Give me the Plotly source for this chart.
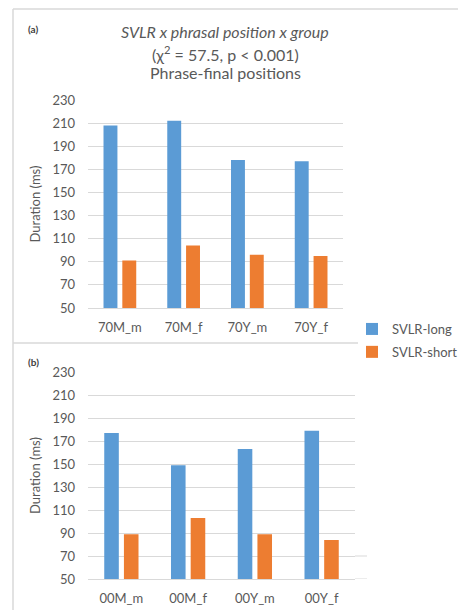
import plotly.graph_objects as go

groups_a = ["70M_m", "70M_f", "70Y_m", "70Y_f"]
long_a = [208, 212, 178, 177]
short_a = [91, 104, 96, 95]

groups_b = ["00M_m", "00M_f", "00Y_m", "00Y_f"]
long_b = [177, 149, 163, 179]
short_b = [89, 103, 89, 84]

series_names = ["SVLR-long", "SVLR-short"]
colors = ["#5B9BD5", "#ED7D31"]
y_ticks = [50, 70, 90, 110, 130, 150, 170, 190, 210, 230]

W, H = 458, 610
FONT = "Lato"
TXT = "#595959"
GRID = "#d9d9d9"

fig = go.Figure()
fig.add_bar(x=groups_a, y=long_a, name=series_names[0], marker_color=colors[0],
            xaxis="x", yaxis="y", legendgroup="l", marker_line_width=0)
fig.add_bar(x=groups_a, y=short_a, name=series_names[1], marker_color=colors[1],
            xaxis="x", yaxis="y", legendgroup="s", marker_line_width=0)
fig.add_bar(x=groups_b, y=long_b, name=series_names[0], marker_color=colors[0],
            xaxis="x2", yaxis="y2", showlegend=False, marker_line_width=0)
fig.add_bar(x=groups_b, y=short_b, name=series_names[1], marker_color=colors[1],
            xaxis="x2", yaxis="y2", showlegend=False, marker_line_width=0)

def px(v):
    return v / W

def py(v):
    return 1 - v / H

yax = dict(range=[50, 230], tickvals=y_ticks, showgrid=True, gridcolor=GRID, gridwidth=1,
           zeroline=False, showline=False, ticks="", ticklabelstandoff=12,
           tickfont=dict(family=FONT, size=13, color=TXT),
           title=dict(text="Duration (ms)", font=dict(family=FONT, size=13, color=TXT), standoff=8))
xax = dict(showline=True, linecolor=GRID, linewidth=1, ticks="", ticklabelstandoff=7,
           tickfont=dict(family=FONT, size=13, color=TXT), showgrid=False)

fig.update_layout(
    width=W, height=H,
    margin=dict(l=0, r=0, t=0, b=0, autoexpand=False),
    paper_bgcolor="white", plot_bgcolor="white",
    barmode="group", bargap=0.41, bargroupgap=0.26,
    xaxis=dict(domain=[px(88), px(343)], anchor="y", **xax),
    yaxis=dict(domain=[py(308), py(100)], anchor="x", **yax),
    xaxis2=dict(domain=[px(88), px(355)], anchor="y2", **xax),
    yaxis2=dict(domain=[py(579), py(372)], anchor="x2", **yax),
    legend=dict(x=px(352), y=py(314), xanchor="left", yanchor="top",
                font=dict(family=FONT, size=13, color=TXT), tracegroupgap=3,
                bgcolor="rgba(0,0,0,0)", itemwidth=30),
    showlegend=True,
)

annos = [
    dict(text="<i>SVLR x phrasal position x group</i>", x=px(225), y=py(31)),
    dict(text="(χ<sup>2</sup> = 57.5, p < 0.001)", x=px(225), y=py(53)),
    dict(text="Phrase-final positions", x=px(225), y=py(73)),
]
for a in annos:
    fig.add_annotation(xref="paper", yref="paper", showarrow=False, xanchor="center",
                       yanchor="middle", font=dict(family=FONT, size=16, color=TXT), **a)
for lab, yy in [("(a)", 29), ("(b)", 362)]:
    fig.add_annotation(text="<b>" + lab + "</b>", xref="paper", yref="paper", x=px(26), y=py(yy),
                       xanchor="left", yanchor="middle", showarrow=False,
                       font=dict(family=FONT, size=10, color="#404040"))

line = dict(color=GRID, width=1.5)
fig.add_shape(type="line", xref="paper", yref="paper", x0=px(13), x1=1, y0=py(9), y1=py(9), line=line)
fig.add_shape(type="line", xref="paper", yref="paper", x0=px(13), x1=px(13), y0=py(9), y1=0, line=line)
fig.add_shape(type="line", xref="paper", yref="paper", x0=px(13), x1=px(358), y0=py(343), y1=py(343), line=line)
# short gridline extensions in panel (b)
for tv in y_ticks[:2]:
    fig.add_shape(type="line", xref="x2 domain", yref="y2", x0=1, x1=1.045, y0=tv, y1=tv,
                  line=dict(color=GRID, width=1))

fig.write_html("out.html", config={"displayModeBar": False},
               post_script="document.body.style.margin='0px';document.body.style.overflow='hidden';")
